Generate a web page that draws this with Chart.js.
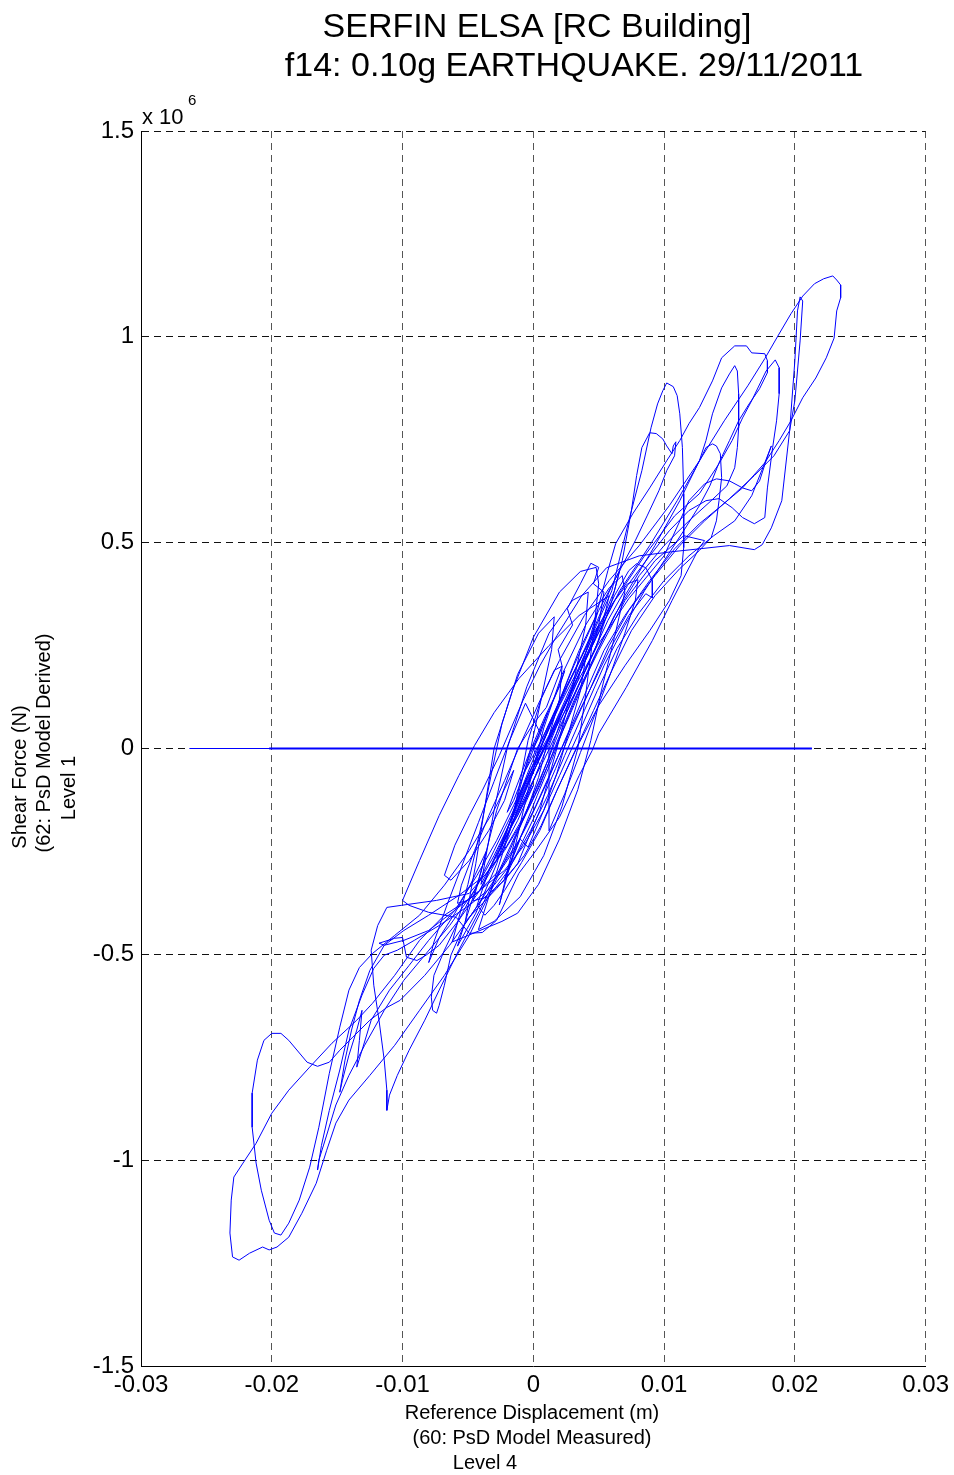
<!DOCTYPE html>
<html>
<head>
<meta charset="utf-8">
<script src="https://cdn.jsdelivr.net/npm/chart.js@4.4.1/dist/chart.umd.min.js"></script>
<style>
  html, body { margin: 0; padding: 0; background: #fff; }
  canvas { display: block; }
</style>
</head>
<body>
<canvas id="hysteresis" width="954" height="1475"></canvas>
<script>
// Axis ticks
const xTickValues = [-0.03, -0.02, -0.01, 0, 0.01, 0.02, 0.03];
const xTickLabels = ['-0.03', '-0.02', '-0.01', '0', '0.01', '0.02', '0.03'];
const yTickValues = [-1.5, -1, -0.5, 0, 0.5, 1, 1.5];
const yTickLabels = ['-1.5', '-1', '-0.5', '0', '0.5', '1', '1.5'];

// Reference displacement at level 4 (m), one row per loop of the test record
const displacementM = [
  0, 0.0005, 0.0011, 0.0008, -0.0002, -0.0008, -0.0003, 0.0006, 0.0017, 0.0024, 0.0020, 0.0009, -0.0003, -0.0014, -0.0020, -0.0015, -0.0006,
  0.0008, 0.0024, 0.0043, 0.0060, 0.0073, 0.0083, 0.0090, 0.0095, 0.0099, 0.0102, 0.0107, 0.0110, 0.0112, 0.0114, 0.0115, 0.0115, 0.0113, 0.0104, 0.0089, 0.0070, 0.0050, 0.0034, 0.0018, 0.0005, -0.0009, -0.0022, -0.0030, -0.0037, -0.0043, -0.0034, -0.0022, -0.0011, 0.0001,
  0.0016, 0.0031, 0.0047, 0.0060, 0.0068, 0.0075, 0.0079, 0.0083, 0.0089, 0.0094, 0.0099, 0.0102, 0.0106, 0.0107, 0.0109, 0.0108, 0.0102, 0.0096, 0.0087, 0.0078, 0.0066, 0.0050, 0.0035, 0.0020, 0.0008, -0.0005, -0.0018, -0.0030, -0.0041, -0.0050, -0.0058, -0.0055, -0.0045, -0.0034, -0.0022, -0.0012,
  0.0005, 0.0020, 0.0039, 0.0058, 0.0081, 0.0104, 0.0127, 0.0146, 0.0164, 0.0177, 0.0187, 0.0197, 0.0206, 0.0215, 0.0222, 0.0229, 0.0232, 0.0235, 0.0235, 0.0232, 0.0230, 0.0224, 0.0216, 0.0206, 0.0197, 0.0188, 0.0177, 0.0160, 0.0142, 0.0127, 0.0108, 0.0089, 0.0070, 0.0054, 0.0039, 0.0024, 0.0011, -0.0003, -0.0015,
  -0.0030, -0.0045, -0.0064, -0.0083, -0.0102, -0.0112, -0.0125, -0.0138, -0.0148, -0.0156, -0.0165, -0.0173, -0.0187, -0.0193, -0.0200, -0.0206, -0.0211, -0.0215, -0.0215, -0.0212, -0.0208, -0.0202, -0.0198, -0.0193, -0.0187, -0.0179, -0.0171, -0.0164, -0.0156, -0.0148, -0.0141, -0.0133, -0.0123, -0.0106, -0.0087, -0.0068, -0.0049, -0.0030, -0.0015,
  -0.0022, -0.0034, -0.0049, -0.0063, -0.0068, -0.0060, -0.0049, -0.0039, -0.0026, -0.0008, 0.0005, 0.0018, 0.0037, 0.0056, 0.0081, 0.0106, 0.0127, 0.0150, 0.0169, 0.0175, 0.0182, 0.0190, 0.0196, 0.0200, 0.0202, 0.0204, 0.0206, 0.0204, 0.0200, 0.0196, 0.0184, 0.0169, 0.0150, 0.0131, 0.0112, 0.0093, 0.0073, 0.0058, 0.0043, 0.0028, 0.0014, 0.0002, -0.0011,
  -0.0026, -0.0045, -0.0068, -0.0087, -0.0106, -0.0123, -0.0135, -0.0154, -0.0171, -0.0187, -0.0200, -0.0212, -0.0222, -0.0229, -0.0231, -0.0232, -0.0230, -0.0225, -0.0217, -0.0207, -0.0202, -0.0196, -0.0187, -0.0177, -0.0166, -0.0158, -0.0151, -0.0141, -0.0125, -0.0106, -0.0087, -0.0068, -0.0049, -0.0034, -0.0018, -0.0005,
  0.0011, 0.0021, 0.0034, 0.0047, 0.0057, 0.0063, 0.0076, 0.0089, 0.0102, 0.0112, 0.0119, 0.0127, 0.0137, 0.0144, 0.0154, 0.0163, 0.0167, 0.0177, 0.0179, 0.0179, 0.0173, 0.0165, 0.0157, 0.0150, 0.0142, 0.0135, 0.0127, 0.0115, 0.0100, 0.0085, 0.0070, 0.0054, 0.0039, 0.0024, 0.0011, -0.0002,
  -0.0015, -0.0030, -0.0049, -0.0072, -0.0091, -0.0104, -0.0114, -0.0122, -0.0131, -0.0141, -0.0148, -0.0156, -0.0162, -0.0165, -0.0164, -0.0158, -0.0151, -0.0141, -0.0129, -0.0114, -0.0099, -0.0083, -0.0064, -0.0045, -0.0030, -0.0017, -0.0007,
  0.0008, 0.0024, 0.0043, 0.0062, 0.0085, 0.0108, 0.0127, 0.0142, 0.0152, 0.0160, 0.0167, 0.0178, 0.0185, 0.0188, 0.0188, 0.0186, 0.0183, 0.0179, 0.0177, 0.0169, 0.0160, 0.0152, 0.0142, 0.0132, 0.0119, 0.0104, 0.0089, 0.0072, 0.0057, 0.0043, 0.0029, 0.0017, 0.0005, -0.0007,
  -0.0020, -0.0034, -0.0049, -0.0074, -0.0101, -0.0112, -0.0119, -0.0124, -0.0122, -0.0118, -0.0114, -0.0112, -0.0112, -0.0110, -0.0104, -0.0095, -0.0083, -0.0072, -0.0057, -0.0041, -0.0026, -0.0012, 0.0001,
  0.0016, 0.0031, 0.0049, 0.0070, 0.0093, 0.0112, 0.0127, 0.0132, 0.0137, 0.0144, 0.0150, 0.0154, 0.0156, 0.0157, 0.0157, 0.0156, 0.0154, 0.0148, 0.0136, 0.0119, 0.0100, 0.0081, 0.0062, 0.0047, 0.0031, 0.0017, 0.0005, -0.0008,
  -0.0022, -0.0037, -0.0057, -0.0080, -0.0099, -0.0114, -0.0125, -0.0133, -0.0139, -0.0144, -0.0148, -0.0146, -0.0141, -0.0135, -0.0131, -0.0133, -0.0135, -0.0131, -0.0124, -0.0110, -0.0095, -0.0080, -0.0060, -0.0043, -0.0028, -0.0015, -0.0003,
  0.0012, 0.0029, 0.0047, 0.0066, 0.0089, 0.0110, 0.0123, 0.0128, 0.0132, 0.0137, 0.0140, 0.0143, 0.0144, 0.0142, 0.0140, 0.0136, 0.0127, 0.0112, 0.0093, 0.0075, 0.0060, 0.0046, 0.0032, 0.0018, 0.0006,
  -0.0007, -0.0022, -0.0040, -0.0053, -0.0063, -0.0068, -0.0072, -0.0074, -0.0077, -0.0078, -0.0076, -0.0068, -0.0057, -0.0043, -0.0030, -0.0017, -0.0005,
  0.0011, 0.0028, 0.0049, 0.0073, 0.0100, 0.0119, 0.0131, 0.0140, 0.0150, 0.0160, 0.0167, 0.0173, 0.0178, 0.0182, 0.0177, 0.0167, 0.0154, 0.0138, 0.0119, 0.0100, 0.0081, 0.0064, 0.0049, 0.0034, 0.0020, 0.0008,
  -0.0007, -0.0022, -0.0041, -0.0060, -0.0080, -0.0099, -0.0114, -0.0118, -0.0106, -0.0100, -0.0097, -0.0089, -0.0082, -0.0072, -0.0057, -0.0041, -0.0026, -0.0012, 0,
  -0.0040, -0.0030, -0.0020, -0.0005, 0.0012, 0.0030, 0.0042, 0.0040, 0.0030, 0.0018, 0.0005, -0.0012, -0.0028,
  -0.0052, -0.0044, -0.0036, -0.0030, -0.0016, 0.0000, 0.0020, 0.0036, 0.0048, 0.0050, 0.0046, 0.0040, 0.0034, 0.0022, 0.0008, -0.0010, -0.0030, -0.0042,
  -0.0018, -0.0010, -0.0004, 0.0006, 0.0016, 0.0022, 0.0020, 0.0012, 0.0004, -0.0006, -0.0014,
  -0.0026, -0.0014, -0.0004, 0.0008, 0.0022, 0.0040, 0.0058, 0.0068, 0.0070, 0.0062, 0.0052, 0.0044, 0.0034, 0.0020, 0.0004, -0.0012, -0.0024,
  -0.0062, -0.0050, -0.0040, -0.0032, -0.0024, -0.0012, 0.0004, 0.0016, 0.0014, 0.0006, -0.0002, -0.0014, -0.0028, -0.0044, -0.0058,
  -0.0040, -0.0028, -0.0012, 0.0000, 0.0010, 0.0022, 0.0019, 0.0030, 0.0026, 0.0036, 0.0044, 0.0050, 0.0046, 0.0054, 0.0050, 0.0040, 0.0036, 0.0028, 0.0018, 0.0008, -0.0004, -0.0010, -0.0020, -0.0034, -0.0046,
  -0.0036, -0.0048, -0.0060, -0.0072, -0.0080, -0.0076, -0.0066, -0.0054, -0.0042, -0.0030, -0.0018, -0.0006,
  0.0008, 0.0026, 0.0044, 0.0060, 0.0072, 0.0080, 0.0078, 0.0070, 0.0060, 0.0048, 0.0036, 0.0024, 0.0012,
  0.0012, 0.0024, 0.0035, 0.0044, 0.0049, 0.0043, 0.0031, 0.0020, 0.0008, -0.0002, -0.0011, -0.0017, -0.0012, -0.0003, 0.0008, 0.0020, 0.0031, 0.0043, 0.0054, 0.0062,
  0.0066, 0.0060, 0.0049, 0.0037, 0.0024, 0.0012, 0.0002, -0.0009, -0.0020, -0.0026, -0.0022, -0.0012, -0.0002, 0.0009, 0.0020, 0.0031, 0.0039, 0.0047, 0.0050, 0.0044,
  0.0033, 0.0020, 0.0008, -0.0003, -0.0013, -0.0022, -0.0028, -0.0024, -0.0015, -0.0003, 0.0007, 0.0017, 0.0028, 0.0038, 0.0049, 0.0062, 0.0073, 0.0079, 0.0086, 0.0091,
  0.0091, 0.0086, 0.0073, 0.0058, 0.0043, 0.0029, 0.0017, 0.0005, -0.0007, -0.0017, -0.0022, -0.0017, -0.0007, 0.0003, 0.0014, 0.0024, 0.0035,
  0.0050, 0.0070, 0.0093, 0.0115, 0.0131, 0.0127, 0.0106, 0.0091, 0.0071, 0.0050, 0.0045, 0.0035, 0.0020, 0.0002, -0.0011, -0.0028, -0.0039, -0.0049, -0.0059, -0.0080, -0.0095, -0.0100,
  -0.0087, -0.0072, -0.0057, -0.0045, -0.0030, -0.0011, 0.0012, 0.0035, 0.0058, 0.0050, 0.0039, 0.0028, 0.0017, 0.0008, -0.0001, -0.0011, -0.0018, -0.0012, -0.0003, 0.0005, 0
];

// Shear force at level 1 (x 10^6 N), same sample order
const shearForceMN = [
  0, 0.032, 0.087, 0.063, -0.010, -0.066, -0.029, 0.049, 0.129, 0.189, 0.150, 0.078, -0.010, -0.102, -0.155, -0.126, -0.053,
  0.032, 0.141, 0.262, 0.383, 0.553, 0.675, 0.779, 0.837, 0.869, 0.888, 0.879, 0.857, 0.813, 0.731, 0.619, 0.488, 0.420, 0.359, 0.286, 0.201, 0.104, 0.007, -0.102, -0.199, -0.277, -0.345, -0.381, -0.405, -0.381, -0.296, -0.211, -0.126, -0.041,
  0.044, 0.129, 0.238, 0.359, 0.456, 0.578, 0.663, 0.731, 0.767, 0.765, 0.752, 0.735, 0.716, 0.735, 0.745, 0.711, 0.675, 0.626, 0.565, 0.505, 0.432, 0.335, 0.238, 0.116, 0.019, -0.090, -0.199, -0.272, -0.345, -0.369, -0.376, -0.332, -0.248, -0.163, -0.078, -0.005,
  0.116, 0.214, 0.323, 0.408, 0.493, 0.590, 0.699, 0.796, 0.881, 0.947, 1.002, 1.056, 1.099, 1.129, 1.141, 1.148, 1.138, 1.126, 1.095, 1.063, 0.997, 0.949, 0.900, 0.852, 0.796, 0.748, 0.694, 0.633, 0.585, 0.546, 0.485, 0.408, 0.323, 0.238, 0.129, 0.019, -0.078, -0.175, -0.248,
  -0.320, -0.393, -0.478, -0.551, -0.612, -0.629, -0.660, -0.701, -0.733, -0.762, -0.772, -0.762, -0.709, -0.692, -0.692, -0.709, -0.757, -0.837, -0.920, -1.007, -1.073, -1.146, -1.177, -1.182, -1.153, -1.097, -1.017, -0.920, -0.789, -0.677, -0.587, -0.532, -0.498, -0.454, -0.405, -0.332, -0.248, -0.150, -0.053,
  -0.126, -0.199, -0.272, -0.320, -0.308, -0.235, -0.163, -0.102, -0.017, 0.116, 0.201, 0.274, 0.371, 0.439, 0.468, 0.478, 0.485, 0.493, 0.483, 0.495, 0.536, 0.602, 0.772, 0.942, 1.063, 1.097, 1.087, 0.990, 0.845, 0.772, 0.711, 0.663, 0.607, 0.553, 0.493, 0.420, 0.335, 0.250, 0.141, 0.044, -0.053, -0.138, -0.223,
  -0.296, -0.357, -0.405, -0.466, -0.551, -0.619, -0.660, -0.716, -0.774, -0.830, -0.886, -0.959, -1.007, -1.041, -1.097, -1.177, -1.235, -1.243, -1.226, -1.211, -1.218, -1.211, -1.187, -1.129, -1.056, -0.976, -0.910, -0.854, -0.794, -0.721, -0.636, -0.551, -0.454, -0.357, -0.248, -0.150,
  -0.029, 0.068, 0.165, 0.311, 0.432, 0.498, 0.570, 0.633, 0.699, 0.748, 0.789, 0.828, 0.893, 0.949, 0.978, 0.978, 0.961, 0.959, 0.942, 0.913, 0.874, 0.837, 0.796, 0.748, 0.694, 0.638, 0.590, 0.529, 0.456, 0.383, 0.299, 0.201, 0.092, -0.017, -0.114, -0.199,
  -0.272, -0.332, -0.381, -0.430, -0.466, -0.490, -0.502, -0.534, -0.599, -0.684, -0.781, -0.879, -0.964, -1.024, -1.000, -0.939, -0.866, -0.794, -0.721, -0.636, -0.563, -0.502, -0.430, -0.345, -0.260, -0.175, -0.102,
  -0.005, 0.104, 0.238, 0.359, 0.468, 0.565, 0.619, 0.692, 0.748, 0.803, 0.845, 0.917, 0.944, 0.925, 0.862, 0.796, 0.731, 0.633, 0.561, 0.546, 0.561, 0.585, 0.607, 0.602, 0.578, 0.529, 0.468, 0.396, 0.311, 0.214, 0.116, 0.019, -0.078, -0.163,
  -0.235, -0.296, -0.352, -0.369, -0.381, -0.386, -0.430, -0.490, -0.575, -0.660, -0.757, -0.830, -0.879, -0.842, -0.794, -0.733, -0.660, -0.587, -0.490, -0.393, -0.296, -0.199, -0.114,
  -0.005, 0.104, 0.238, 0.371, 0.493, 0.602, 0.699, 0.748, 0.813, 0.876, 0.910, 0.930, 0.917, 0.862, 0.779, 0.731, 0.682, 0.638, 0.602, 0.553, 0.493, 0.420, 0.323, 0.226, 0.116, 0.007, -0.090, -0.175,
  -0.248, -0.308, -0.357, -0.405, -0.442, -0.478, -0.539, -0.612, -0.684, -0.757, -0.835, -0.806, -0.745, -0.684, -0.636, -0.709, -0.774, -0.733, -0.660, -0.587, -0.527, -0.466, -0.393, -0.308, -0.223, -0.138, -0.058,
  0.032, 0.141, 0.262, 0.383, 0.493, 0.602, 0.675, 0.704, 0.731, 0.740, 0.735, 0.716, 0.658, 0.602, 0.553, 0.512, 0.481, 0.437, 0.371, 0.286, 0.189, 0.092, -0.005, -0.102, -0.187,
  -0.260, -0.320, -0.369, -0.430, -0.502, -0.575, -0.624, -0.643, -0.636, -0.604, -0.551, -0.490, -0.417, -0.332, -0.248, -0.163, -0.078,
  0.019, 0.129, 0.250, 0.364, 0.468, 0.602, 0.643, 0.655, 0.650, 0.633, 0.626, 0.650, 0.699, 0.735, 0.694, 0.614, 0.553, 0.517, 0.468, 0.408, 0.330, 0.243, 0.141, 0.032, -0.066, -0.150,
  -0.235, -0.296, -0.345, -0.393, -0.442, -0.466, -0.478, -0.473, -0.461, -0.459, -0.507, -0.515, -0.502, -0.478, -0.417, -0.345, -0.260, -0.175, -0.090,
  -0.330, -0.150, 0, 0.150, 0.280, 0.360, 0.380, 0.300, 0.150, 0, -0.150, -0.280, -0.340,
  -0.420, -0.280, -0.120, 0, 0.140, 0.270, 0.380, 0.430, 0.440, 0.400, 0.280, 0.130, 0, -0.140, -0.260, -0.360, -0.420, -0.440,
  -0.200, -0.080, 0.020, 0.120, 0.190, 0.200, 0.120, 0.030, -0.070, -0.160, -0.220,
  -0.380, -0.240, -0.100, 0.050, 0.180, 0.300, 0.390, 0.420, 0.380, 0.270, 0.140, 0.020, -0.100, -0.220, -0.330, -0.400, -0.420,
  -0.470, -0.330, -0.190, -0.060, 0.060, 0.180, 0.280, 0.320, 0.240, 0.120, 0, -0.140, -0.280, -0.400, -0.480,
  -0.300, -0.150, 0.000, 0.060, 0.100, 0.200, 0.240, 0.300, 0.340, 0.400, 0.450, 0.440, 0.400, 0.380, 0.300, 0.220, 0.140, 0.050, -0.060, -0.150, -0.240, -0.220, -0.300, -0.360, -0.370,
  -0.250, -0.330, -0.400, -0.460, -0.520, -0.470, -0.380, -0.280, -0.180, -0.080, 0.020, 0.110,
  0.020, 0.150, 0.270, 0.350, 0.400, 0.410, 0.360, 0.280, 0.190, 0.090, -0.010, -0.110, -0.200,
  0.007, 0.104, 0.194, 0.262, 0.330, 0.286, 0.201, 0.116, 0.032, -0.041, -0.114, -0.175, -0.146, -0.078, 0, 0.087, 0.165, 0.243, 0.323, 0.383,
  0.432, 0.396, 0.311, 0.226, 0.141, 0.056, -0.024, -0.102, -0.199, -0.248, -0.223, -0.150, -0.073, 0.007, 0.078, 0.153, 0.209, 0.262, 0.299, 0.262,
  0.184, 0.104, 0.019, -0.058, -0.138, -0.211, -0.267, -0.248, -0.175, -0.102, -0.024, 0.053, 0.129, 0.201, 0.282, 0.371, 0.432, 0.449, 0.439, 0.408,
  0.366, 0.376, 0.323, 0.238, 0.141, 0.044, -0.049, -0.138, -0.218, -0.284, -0.316, -0.272, -0.194, -0.114, -0.029, 0.056, 0.141,
  0.238, 0.359, 0.456, 0.517, 0.505, 0.488, 0.359, 0.262, 0.148, 0.036, -0.005, -0.066, -0.167, -0.248, -0.303, -0.417, -0.447, -0.449, -0.410, -0.398, -0.381, -0.369,
  -0.272, -0.163, -0.066, 0.007, 0.087, 0.170, 0.250, 0.323, 0.371, 0.262, 0.184, 0.104, 0.032, -0.029, -0.083, -0.146, -0.194, -0.163, -0.102, -0.041, 0
];

// Zero-force records before and after the test
const restRunDispM = [-0.0263, 0.0213];
const restRunForceMN = [0, 0];
const restRunLongDispM = [-0.0202, 0.0213];
const restRunLongForceMN = [0, 0];

const FONT = '"Liberation Sans", Arial, Helvetica, sans-serif';
const toPoints = (xs, ys) => xs.map((x, i) => ({ x: x, y: ys[i] }));

// Titles, axis labels and the exponent label, drawn in canvas space
const textPlugin = {
  id: 'figureText',
  afterDraw(chart) {
    const ctx = chart.ctx;
    const area = chart.chartArea;
    ctx.save();
    ctx.fillStyle = '#000';
    ctx.textBaseline = 'alphabetic';

    ctx.textAlign = 'center';
    ctx.font = '34px ' + FONT;
    ctx.fillText('SERFIN ELSA [RC Building]', 537, 37);
    ctx.fillText('f14: 0.10g EARTHQUAKE. 29/11/2011', 574, 76);

    ctx.font = '20px ' + FONT;
    ctx.fillText('Reference Displacement (m)', 532, 1419);
    ctx.fillText('(60: PsD Model Measured)', 532, 1444);
    ctx.fillText('Level 4', 485, 1469);

    const rotated = (text, x, y) => {
      ctx.save();
      ctx.translate(x, y);
      ctx.rotate(-Math.PI / 2);
      ctx.fillText(text, 0, 0);
      ctx.restore();
    };
    rotated('Shear Force (N)', 26, 777);
    rotated('(62: PsD Model Derived)', 50, 743);
    rotated('Level 1', 75, 788);

    ctx.textAlign = 'left';
    ctx.font = '22px ' + FONT;
    ctx.fillText('x 10', area.left + 1, area.top - 7);
    ctx.font = '15px ' + FONT;
    ctx.fillText('6', area.left + 47, area.top - 26);
    ctx.restore();
  }
};

new Chart(document.getElementById('hysteresis'), {
  type: 'scatter',
  data: {
    datasets: [
      {
        data: toPoints(restRunDispM, restRunForceMN),
        showLine: true, borderColor: '#0000ff', borderWidth: 1, pointRadius: 0
      },
      {
        data: toPoints(restRunLongDispM, restRunLongForceMN),
        showLine: true, borderColor: '#0000ff', borderWidth: 2, pointRadius: 0
      },
      {
        data: toPoints(displacementM, shearForceMN),
        showLine: true, borderColor: '#0000ff', borderWidth: 1, pointRadius: 0,
        tension: 0, borderJoinStyle: 'round'
      }
    ]
  },
  options: {
    responsive: false,
    animation: false,
    devicePixelRatio: 1,
    layout: { padding: { left: 0, top: 131, right: 28, bottom: 0 } },
    plugins: { legend: { display: false }, tooltip: { enabled: false }, title: { display: false } },
    scales: {
      x: {
        type: 'linear', min: -0.03, max: 0.03,
        afterBuildTicks(scale) { scale.ticks = xTickValues.map(v => ({ value: v })); },
        afterFit(scale) { scale.height = 109; },
        ticks: {
          callback: (v, i) => xTickLabels[i],
          font: { family: FONT, size: 24 }, color: '#000', padding: 5,
          maxRotation: 0, autoSkip: false
        },
        grid: { color: '#555', lineWidth: 1, drawTicks: false },
        border: { display: true, color: '#000', width: 1, dash: [7, 5] }
      },
      y: {
        type: 'linear', min: -1.5, max: 1.5,
        afterBuildTicks(scale) { scale.ticks = yTickValues.map(v => ({ value: v })); },
        afterFit(scale) { scale.width = 141; },
        ticks: {
          callback: (v, i) => yTickLabels[i],
          font: { family: FONT, size: 24 }, color: '#000', padding: 7,
          autoSkip: false
        },
        grid: { color: '#111', lineWidth: 1, drawTicks: false },
        border: { display: true, color: '#000', width: 1, dash: [7, 5] }
      }
    }
  },
  plugins: [textPlugin]
});
</script>
</body>
</html>
